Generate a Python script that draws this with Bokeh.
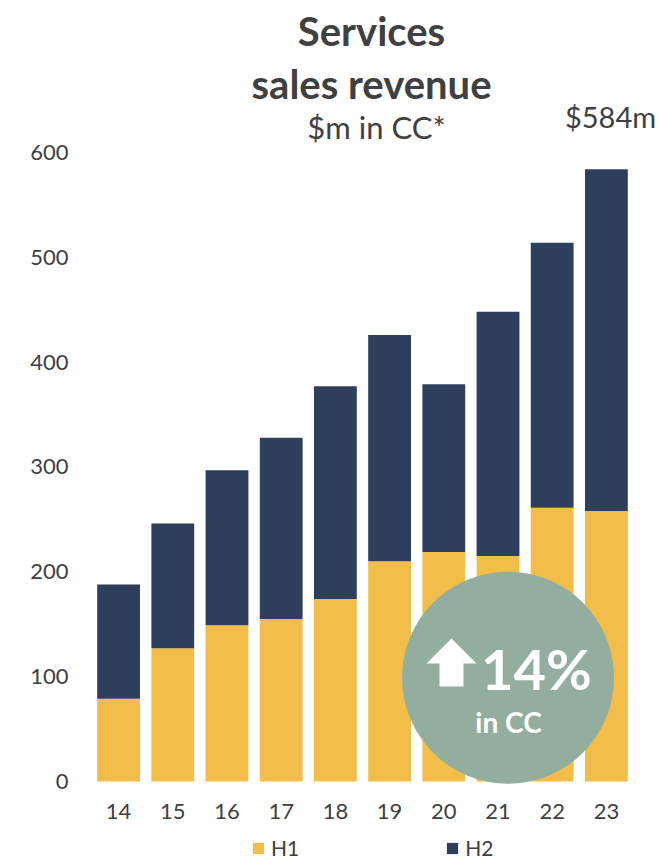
from bokeh.plotting import figure
from bokeh.models import Legend, LegendItem, PolyAnnotation, FixedTicker, ColumnDataSource
from bokeh.core.properties import value
from bokeh.embed import file_html
from bokeh.resources import INLINE

years = ["14","15","16","17","18","19","20","21","22","23"]
h1 = [79,127,149,155,174,210,219,215,261,258]
h2 = [109,119,148,173,203,216,160,233,253,326]
yticks = [0,100,200,300,400,500,600]
FONT = "Lato"
INK = "#404040"
YEL = "#F2BD48"
NAVY = "#2E3F5C"
SAGE = "#93AD9F"
FL, FB = 91, 860

p = figure(frame_width=542, frame_height=708, x_range=years, y_range=(-79/1.048, 600), output_backend="svg",
           toolbar_location=None, min_border_left=91, min_border_right=26,
           min_border_top=152, min_border_bottom=0, outline_line_color=None,
           background_fill_color=None, border_fill_color="white")
p.grid.visible = False
src = ColumnDataSource(dict(year=years, H1=h1, H2=h2))
rs = p.vbar_stack(["H1","H2"], x="year", width=0.79, color=[YEL, NAVY], source=src, line_color=None)

for ax in (p.xaxis[0], p.yaxis[0]):
    ax.axis_line_color = None
    ax.major_tick_line_color = None
    ax.minor_tick_line_color = None
    ax.major_label_text_font = FONT
    ax.major_label_text_font_size = "22px"
    ax.major_label_text_color = INK
p.yaxis[0].ticker = FixedTicker(ticks=yticks)
p.yaxis[0].major_label_standoff = 17
p.xaxis[0].fixed_location = 0
p.xaxis[0].major_label_standoff = 17

leg = Legend(items=[LegendItem(label="H1", renderers=[rs[0]]), LegendItem(label="H2", renderers=[rs[1]])],
             orientation="horizontal", border_line_color=None, background_fill_alpha=0,
             glyph_width=14, glyph_height=14, spacing=146, label_standoff=6, margin=0, padding=0,
             label_text_font=FONT, label_text_font_size="21px", label_text_color=INK,
             location=(160, 0))
p.add_layout(leg, "center")

p.scatter([7.685], [99], size=212, marker="circle", fill_color=SAGE, line_color=None, level="overlay")

p.add_layout(PolyAnnotation(xs=[x-FL for x in (451, 476, 463, 463, 439, 439, 426)],
                            ys=[FB-y for y in (638, 663, 663, 686, 686, 663, 663)],
                            xs_units="screen", ys_units="screen",
                            fill_color="white", fill_alpha=1, line_color=None, level="overlay"))

def lab(text, px, py, size, color=INK, style="normal"):
    p.text([(px-FL)/54.2], [(781-py)/1.048], text=[text], text_font=value(FONT), text_font_size=value(size),
           text_color=color, text_font_style=style, text_align="center", text_baseline="middle", level="overlay")

lab("Services", 371, 31, "40px", style="bold")
lab("sales revenue", 371, 84, "40px", style="bold")
lab("$m in CC*", 376, 127, "31px")
lab("$584m", 610, 116, "29px")
lab("14%", 536, 668, "56px", color="white", style="bold")
lab("in CC", 508, 722, "28px", color="white", style="bold")

open("out.html","w").write(file_html(p, INLINE))
